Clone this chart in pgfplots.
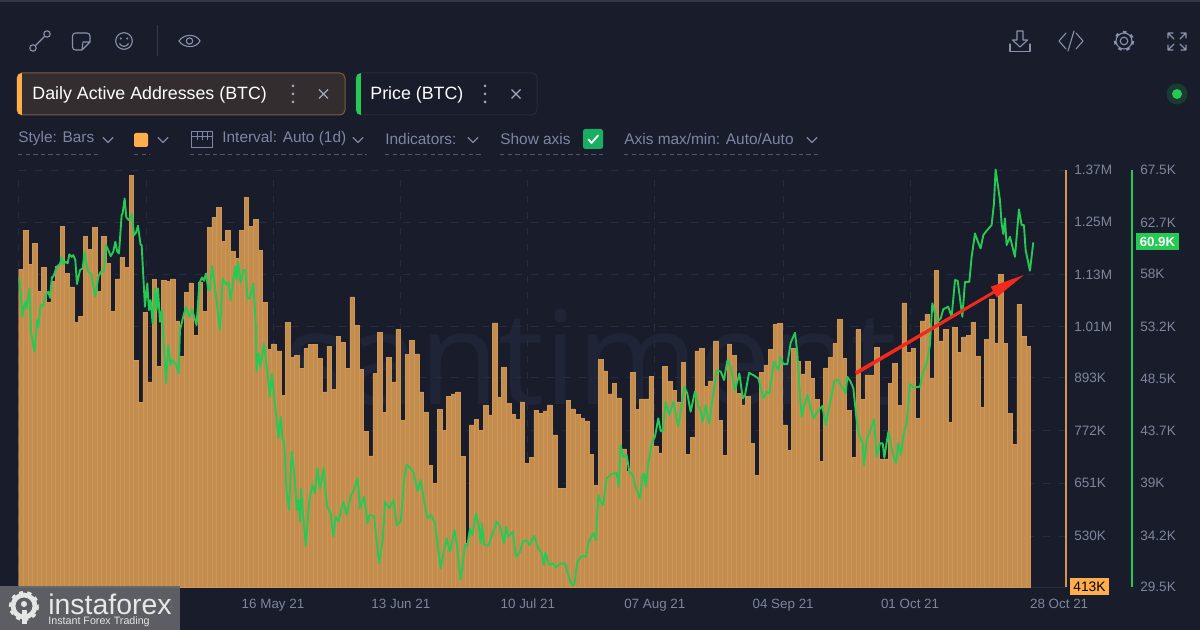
\documentclass[border=0pt]{standalone}
\usepackage{pgfplots}
\usepackage{pgfplotstable}
\usepackage{fontspec}
\setmainfont{Liberation Sans}
\newfontfamily\wmfont{Open Sans}
\pgfplotsset{compat=1.18}
\definecolor{bg}{HTML}{181C2B}
\definecolor{orangeA}{HTML}{FFAD4D}
\definecolor{barfill}{HTML}{C48D50}
\definecolor{baredge}{HTML}{CF9552}
\definecolor{axorange}{HTML}{D39650}
\definecolor{priceg}{HTML}{26C953}
\definecolor{tickc}{HTML}{7F869C}
\definecolor{rowc}{HTML}{7E86A4}
\definecolor{iconc}{HTML}{8A91AB}
\definecolor{gridc}{HTML}{272C3E}
\definecolor{wm}{HTML}{1F2436}
\definecolor{redarrow}{HTML}{F22A1E}
\pgfplotstableread{
v
1142
1232
1154
1202
1091
1146
1066
1114
1148
1241
1133
1102
1021
1034
1218
1188
1238
1091
1218
1156
1046
1120
1170
1147
1358
933
837
1043
884
1119
920
1116
1114
1120
1024
942
1089
1111
990
1112
1045
1239
1261
1284
1206
1232
1183
1168
1232
1307
1240
1257
1185
1066
958
971
955
852
1021
940
945
915
960
969
970
937
861
965
867
988
974
914
1079
1013
913
770
714
903
998
813
940
884
1005
796
947
979
948
861
814
692
651
821
772
851
856
861
713
513
785
798
773
829
808
1019
848
917
835
810
798
838
697
711
819
811
817
831
762
640
639
841
822
809
800
794
717
647
935
909
856
880
847
730
679
906
821
845
845
896
737
721
919
885
864
838
928
718
756
955
960
873
886
978
795
715
971
945
858
831
850
743
670
906
923
958
1016
1018
785
726
961
930
902
931
892
844
701
916
940
972
1027
937
818
710
1004
844
900
898
963
707
707
880
926
830
1065
952
960
800
1024
1039
892
1139
978
1004
790
1009
951
987
990
1020
942
825
981
1074
973
1131
972
812
741
1062
988
965
}\addresses
\newcommand{\chev}[2]{\draw[rowc,line width=.55pt,line cap=round,line join=round] (#1-5,#2-2.5)--(#1,#2+2.5)--(#1+5,#2-2.5);}
\newcommand{\uline}[3]{\draw[rowc!55!bg,line width=.4pt,dash pattern=on 2.2pt off 1.6pt] (#1,#3)--(#2,#3);}
\begin{document}
\begin{tikzpicture}[x=0.5pt,y=-0.5pt]
\useasboundingbox (0,0) rectangle (1200,630);
\fill[bg] (0,0) rectangle (1200,630);
\fill[bg!88!white] (0,0) rectangle (1200,2);
% watermark
\node[text=wm,anchor=center,font=\fontsize{65pt}{65pt}\wmfont] at (591,357) {santiment};
% bars
\begin{axis}[
 at={(9.335pt,-293.5pt)},anchor=south west,
 scale only axis,width=523.67pt,height=208.5pt,
 xmin=0,xmax=227.7,ymin=413,ymax=1370,
 axis x line*=bottom,axis y line*=right,
 x axis line style={color=gridc,-},
 y axis line style={color=axorange,line width=.8pt,-},
 major tick length=0pt,
 xmajorgrids,ymajorgrids,
 grid style={gridc,line width=.5pt,dash pattern=on 3.5pt off 4.5pt},
 xtick={0,27.7,55.3,83.1,110.7,138.3,166.2,193.8},
 xticklabels={,18 Apr 21,16 May 21,13 Jun 21,10 Jul 21,07 Aug 21,04 Sep 21,01 Oct 21},
 extra x ticks={226.2},extra x tick labels={28 Oct 21},
 extra x tick style={grid=none},
 xticklabel style={font=\fontsize{6.7pt}{8pt}\selectfont,text=tickc,yshift=-2.2pt,text height=5pt,text depth=0pt},
 ytick={530,651,772,893,1010,1130,1250,1370},
 yticklabels={530K,651K,772K,893K,1.01M,1.13M,1.25M,1.37M},
 yticklabel style={font=\fontsize{6.8pt}{8pt}\selectfont,text=tickc,anchor=west,xshift=0.6pt},
 clip=true,
]
\addplot[ybar,bar width=1,bar shift=0pt,fill=barfill,draw=baredge,line width=.25pt]
 table[x expr=\coordindex+0.5,y=v]{\addresses};
\end{axis}
% price
\begin{axis}[
 at={(9.335pt,-293.5pt)},anchor=south west,
 scale only axis,width=556.67pt,height=208.5pt,
 xmin=0,xmax=242.9,ymin=29.5,ymax=67.5,
 axis x line=none,axis y line*=right,
 y axis line style={color=priceg,line width=.8pt,-},
 major tick length=0pt,
 xtick=\empty,
 ytick={29.5,34.2,39,43.7,48.5,53.2,58,62.7,67.5},
 yticklabels={29.5K,34.2K,39K,43.7K,48.5K,53.2K,58K,62.7K,67.5K},
 yticklabel style={font=\fontsize{6.8pt}{8pt}\selectfont,text=tickc,anchor=west,xshift=0.6pt},
 clip=false,
]
\addplot[priceg,line width=.95pt,line join=round] coordinates {
(0.15,57.62)(0.44,56.25)(0.8,54.13)(1.16,55.04)(1.45,55.49)(1.75,54.89)(2.33,56.71)(2.69,52.76)(3.42,50.94)(4.07,53.82)
(4.29,53.21)(4.8,55.19)(5.38,55.13)(5.89,56.1)(6.47,56.4)(6.84,55.86)(7.27,57.77)(7.56,57.77)(8.29,58.68)(9.02,58.92)
(9.38,59.59)(9.74,58.92)(10.25,59.14)(10.69,58.99)(11.05,59.81)(11.56,59.59)(11.92,59.74)(12.36,59.29)(12.72,57.1)(13.38,58.38)
(13.96,58.53)(14.4,60.05)(14.83,58.83)(15.2,58.23)(15.85,58.01)(16.72,55.95)(17.38,57.77)(17.89,58.23)(18.61,58.23)(19.05,60.66)
(19.56,60.2)(20.07,59.65)(20.65,60.05)(21.08,60.96)(21.52,60.05)(21.88,59.9)(22.47,63.39)(22.68,63.54)(23.12,64.91)(23.48,63.18)
(24.06,62.93)(24.72,63.54)(25.16,61.57)(25.59,61.78)(26.03,62.42)(26.61,60.66)(26.83,60.66)(27.55,55.04)(28.06,57.16)(28.43,54.73)
(28.79,55.64)(29.23,53.52)(29.74,56.71)(30.1,54.73)(30.39,56.71)(30.83,53.67)(31.26,54.73)(32.13,48.05)(32.64,51.54)(33.15,49.72)
(33.59,50.18)(34.31,49.81)(34.9,48.96)(35.19,52.91)(35.91,54.13)(36.5,55.04)(37.22,54.13)(37.8,54.82)(38.82,53.37)(39.4,57.16)
(39.99,57.71)(40.42,57.41)(40.86,58.07)(41.37,56.56)(41.73,56.56)(42.17,58.74)(42.82,56.86)(43.91,52.91)(44.49,57.62)(45.37,57.01)
(45.8,57.31)(46.24,55.64)(46.82,57.47)(47.26,58.68)(47.55,57.47)(47.84,59.14)(48.42,57.22)(49.0,58.38)(49.44,58.38)(49.95,55.8)
(50.45,55.8)(51.18,57.16)(51.76,53.21)(51.91,49.12)(52.35,50.79)(52.78,49.57)(53.51,51.7)(54.24,49.12)(54.82,46.84)(55.26,48.96)
(55.98,45.93)(56.15,45.33)(56.66,43.05)(57.17,45.02)(57.53,43.05)(57.89,42.74)(58.48,38.04)(58.98,36.52)(59.57,41.83)(60.15,39.86)
(60.66,36.52)(61.02,37.43)(61.38,35.45)(61.6,38.49)(61.97,36.52)(62.62,33.24)(63.42,37.43)(64.07,38.8)(64.66,38.04)(65.16,40.31)
(65.75,38.49)(66.11,39.25)(66.55,40.31)(66.98,38.04)(67.34,36.82)(68.07,36.21)(68.65,34.09)(69.16,35.91)(69.74,35.45)(70.83,37.28)
(71.56,36.06)(72.51,37.88)(73.02,38.19)(73.96,39.4)(74.48,36.67)(75.35,37.73)(76.08,35.3)(76.52,36.06)(77.53,35.97)(78.62,31.66)
(79.42,33.78)(79.93,37.27)(80.88,36.67)(81.75,37.43)(82.48,35.15)(83.35,35.45)(84.15,39.55)(84.66,40.68)(86.11,40.01)(87.06,38.19)
(87.71,39.25)(88.66,36.82)(89.17,35.76)(89.97,36.06)(90.84,35.3)(91.35,33.48)(92.07,31.2)(92.51,32.26)(93.38,33.93)(94.11,32.72)
(95.06,34.69)(95.56,33.48)(96.44,30.2)(97.38,33.33)(97.89,33.27)(98.47,34.84)(98.98,34.24)(99.78,36.21)(100.36,35.15)(100.8,33.48)
(101.09,35.3)(101.53,33.33)(102.47,33.27)(103.42,34.39)(104.29,35.45)(105.02,35.0)(105.89,33.48)(106.32,35.0)(106.83,34.09)(107.78,34.54)
(108.5,32.26)(109.38,32.72)(109.96,33.63)(110.83,33.78)(111.41,33.33)(112.43,34.15)(113.38,33.02)(114.1,32.57)(114.61,31.5)(114.9,32.63)
(115.77,31.5)(116.65,31.66)(117.16,31.29)(118.1,31.6)(119.19,31.66)(119.92,30.59)(120.65,29.68)(121.23,29.68)(121.88,31.81)(122.83,32.32)
(123.77,32.26)(124.35,33.63)(125.37,34.39)(125.95,33.78)(126.46,37.88)(126.97,37.27)(127.55,36.97)(128.28,39.4)(129.37,39.8)(130.46,39.92)
(130.9,38.64)(131.33,42.44)(131.91,41.37)(132.64,41.53)(133.22,40.01)(133.95,39.7)(134.68,38.49)(135.55,37.58)(136.06,39.55)(136.42,39.86)
(136.86,38.64)(137.37,40.77)(138.09,42.59)(138.82,43.2)(139.55,44.87)(140.06,43.74)(140.49,43.65)(141.15,46.39)(141.95,45.17)(142.82,46.39)
(143.91,44.11)(145.22,47.75)(145.87,47.15)(146.6,45.47)(147.54,47.3)(148.27,45.93)(148.66,45.77)(149.24,44.56)(149.9,46.08)(150.62,44.41)
(151.35,46.53)(152.29,49.27)(153.17,49.12)(153.89,48.36)(154.62,50.18)(155.35,49.57)(156.29,47.44)(157.24,48.96)(157.97,46.69)(158.47,47.0)
(159.35,49.02)(160.29,48.81)(161.38,48.51)(162.47,46.69)(163.2,47.29)(163.78,47.14)(164.8,50.03)(165.74,49.27)(166.11,50.48)(166.84,49.81)
(167.71,49.81)(168.43,51.76)(169.38,52.67)(169.89,50.79)(170.47,46.84)(170.83,45.02)(171.34,45.93)(172.07,47.0)(173.38,44.86)(174.25,45.47)
(175.34,45.99)(176.07,44.26)(177.38,47.0)(177.96,48.3)(178.83,48.36)(180.43,47.14)(180.79,48.66)(181.52,48.2)(182.1,47.6)(182.83,44.71)
(183.34,43.34)(184.14,42.59)(184.43,40.61)(185.01,42.89)(186.61,44.77)(187.19,41.37)(187.92,42.59)(188.5,42.59)(188.86,41.28)(189.74,43.65)
(190.68,41.67)(191.41,40.76)(191.92,42.59)(192.5,41.52)(193.0,43.34)(193.73,44.41)(194.46,47.99)(195.19,47.69)(196.64,47.75)(197.22,48.96)
(198.1,49.87)(198.82,51.54)(199.33,55.34)(199.91,54.43)(200.42,53.67)(201.15,53.97)(201.73,54.82)(202.82,55.04)(203.55,54.13)(204.28,57.47)
(204.86,57.41)(205.88,54.13)(206.46,57.31)(207.4,57.31)(207.91,59.59)(208.64,61.72)(209.15,61.11)(209.87,60.35)(210.46,61.57)(211.18,61.96)
(212.27,62.48)(212.78,64.45)(213.14,67.55)(214.09,64.76)(214.45,62.63)(214.82,61.66)(215.18,63.09)(215.54,60.66)(216.27,61.41)(217.36,59.59)
(218.23,63.91)(218.82,62.48)(219.32,62.48)(219.69,60.2)(220.63,58.32)(221.36,60.9)
};
\end{axis}
% red arrow annotation
\fill[redarrow] (855,371.5)--(993,291)--(990.7,286.7)--(1024,275)--(996.7,297.3)--(994.5,293.5)--(856.5,375)--cycle;
% value tags
\fill[orangeA] (1070,578) rectangle (1109,595);
\node[text=black,font=\fontsize{6.9pt}{8pt}\selectfont] at (1089.5,587) {413K};
\fill[priceg] (1136,233) rectangle (1179,250);
\node[text=white,font=\fontsize{6.6pt}{8pt}\selectfont\bfseries] at (1157.5,242) {60.9K};
% chips
\draw[rounded corners=2.5pt,fill=orangeA!12!bg,draw=orangeA!45!bg,line width=.5pt] (17,73) rectangle (345,115);
\begin{scope}
\clip[rounded corners=2.5pt] (17,73) rectangle (345,115);
\fill[orangeA] (17,73) rectangle (21.5,115);
\end{scope}
\node[anchor=west,text=white,inner sep=0pt,font=\fontsize{8.9pt}{10pt}\selectfont] at (32,95) {Daily Active Addresses (BTC)};
\foreach \yy in {86,94,102} \fill[iconc!80!white] (293,\yy) circle (1.5);
\draw[iconc!80!white,line width=.6pt] (319,89.5)--(328,98.5) (319,98.5)--(328,89.5);
\draw[rounded corners=2.5pt,fill=bg,draw=white!7!bg,line width=.5pt] (356,73) rectangle (537,115);
\begin{scope}
\clip[rounded corners=2.5pt] (356,73) rectangle (537,115);
\fill[priceg] (356,73) rectangle (360.5,115);
\end{scope}
\node[anchor=west,text=white,inner sep=0pt,font=\fontsize{8.9pt}{10pt}\selectfont] at (370,95) {Price (BTC)};
\foreach \yy in {86,94,102} \fill[iconc!80!white] (485,\yy) circle (1.5);
\draw[iconc!80!white,line width=.6pt] (511.5,89.5)--(520.5,98.5) (511.5,98.5)--(520.5,89.5);
% options row
\begin{scope}[every node/.style={anchor=west,text=rowc,inner sep=0pt,font=\fontsize{7.7pt}{9pt}\selectfont}]
\node at (18,139) {Style: Bars};
\node at (222,139) {Interval: Auto (1d)};
\node at (385,139) {Indicators:};
\node at (500,139) {Show axis};
\node at (624,139) {Axis max/min: Auto/Auto};
\end{scope}
\chev{108}{140}\chev{163}{140}\chev{358}{140}\chev{473}{140}\chev{812}{140}
\fill[orangeA,rounded corners=1pt] (134,133) rectangle (148,147);
\draw[rowc,line width=.5pt] (191,132) rectangle (212,148);
\draw[rowc,line width=.5pt] (191,137)--(212,137) (197,132)--(197,140) (202,132)--(202,140) (207,132)--(207,140);
\fill[teal!35!priceg,rounded corners=1.2pt] (583,129) rectangle (603,149);
\draw[white,line width=.9pt,line cap=round,line join=round] (588.5,139.5)--(591.5,143)--(598,135.5);
\uline{18}{100}{154}\uline{134}{150}{154}\uline{190}{367}{154}\uline{385}{483}{154}\uline{500}{605}{154}\uline{624}{818}{154}
% left icons
\begin{scope}[iconc,line width=.55pt]
\draw (33,48) circle (3.2) (47,34) circle (3.2) (35.3,45.7)--(44.7,36.3);
\draw[rounded corners=1.5pt] (90,42)--(90,33)--(72.5,33)--(72.5,50)--(82,50);
\draw[line join=round] (82,50)--(90,42)--(83,42)--(82,50);
\draw (124,41) circle (8.3);
\fill (120.8,38.5) circle (1.1) (127.2,38.5) circle (1.1);
\draw (119.5,43.5) .. controls (121.5,47.3) and (126.5,47.3) .. (128.5,43.5);
\draw[white!14!bg,line width=.5pt] (157,25)--(157,56);
\draw (179,41) .. controls (184,33.5) and (196,33.5) .. (200,41) .. controls (196,48.5) and (184,48.5) .. (179,41)--cycle;
\draw (189.5,41) circle (3.2);
\end{scope}
% right icons
\begin{scope}[iconc,line width=.55pt,line cap=round,line join=round]
\draw (1010,44)--(1010,51.5)--(1030,51.5)--(1030,44);
\draw (1017,31)--(1023,31)--(1023,40)--(1027.5,40)--(1020,47)--(1012.5,40)--(1017,40)--cycle;
\draw (1066,33)--(1059,41)--(1066,49) (1076,33)--(1083,41)--(1076,49) (1074,31)--(1068,51);
\draw (1124,41) circle (3.8);
\draw (1124,41) circle (8);
\draw[line width=1pt,line cap=butt,dash pattern=on 1.8pt off 2.4pt] (1124,41) circle (9.2);
\draw (1168,33)--(1174,39) (1168,33)--(1173,33) (1168,33)--(1168,38);
\draw (1186,33)--(1180,39) (1186,33)--(1181,33) (1186,33)--(1186,38);
\draw (1168,50)--(1174,44) (1168,50)--(1173,50) (1168,50)--(1168,45);
\draw (1186,50)--(1180,44) (1186,50)--(1181,50) (1186,50)--(1186,45);
\end{scope}
\fill[priceg!18!bg] (1177,94) circle (10.5);
\fill[priceg] (1177,94) circle (5);
% logo box
\fill[gray!72!bg,opacity=.92] (0,586) rectangle (180,630);
\draw[white!80!gray,line width=2.2pt,dash pattern=on 2pt off 2pt] (24,606) circle (13);
\draw[white!80!gray,line width=2.4pt] (24,606) circle (11);
\fill[white!80!gray] (21.5,610) rectangle (26.5,624);
\fill[white!80!gray] (24,604) circle (3);
\node[anchor=west,text=white!82!gray,inner sep=0pt,font=\fontsize{14.2pt}{16pt}\selectfont] at (48,604) {instaforex};
\node[anchor=west,text=white!78!gray,inner sep=0pt,font=\fontsize{5.35pt}{6pt}\selectfont] at (48,622) {Instant Forex Trading};
\end{tikzpicture}
\end{document}
